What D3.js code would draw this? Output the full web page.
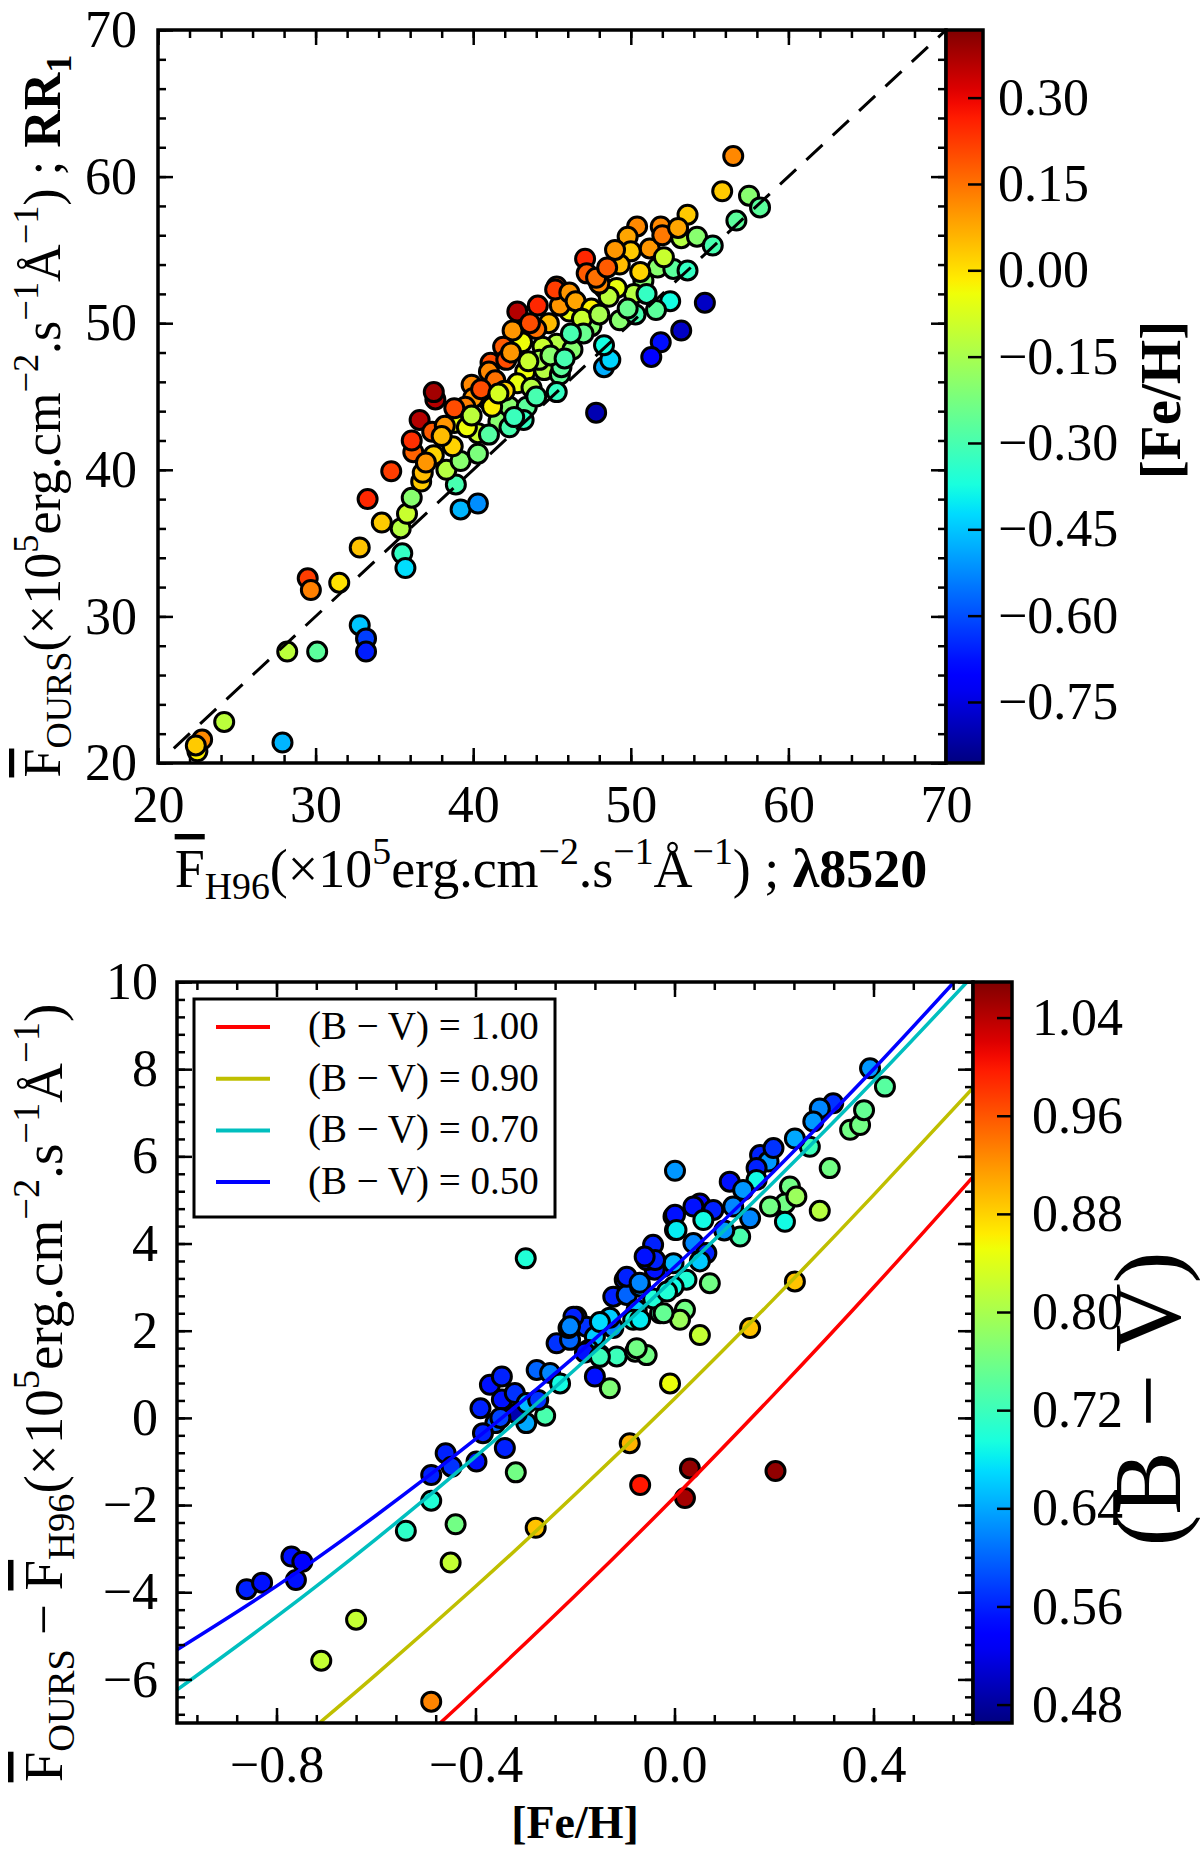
<!DOCTYPE html>
<html>
<head>
<meta charset="utf-8">
<script src="https://cdn.jsdelivr.net/npm/d3@7"></script>
<style>
  body { margin: 0; background: #fff; }
  text { font-family: "Liberation Serif", "DejaVu Serif", serif; fill: #000; }
</style>
</head>
<body>
<div id="chart"></div>
<script>
// ---- top panel: F_H96 vs F_OURS, coloured by [Fe/H]
var fluxH96 = [22.5,22.8,22.4,24.2,27.9,28.2,30.1,29.5,29.7,31.5,32.8,33.3,32.8,33.2,33.2,34.2,35.5,35.7,35.4,35.8,
  36.1,34.8,36.7,36.8,36.2,36.1,36.6,37.4,37.6,37.5,39.2,40.3,38.9,38.3,39.2,38.7,38.8,40.3,40.3,39.6,
  40.9,39.9,40.0,41.6,42.3,43.4,43.2,42.3,41.1,41.0,43.3,42.8,43.7,44.5,45.5,45.3,43.1,42.5,41.9,42.8,
  44.1,45.3,46.3,46.1,45.5,44.4,56.5,55.8,57.5,58.2,56.7,53.6,51.9,50.4,49.8,51.2,50.0,53.2,54.2,55.2,
  49.3,51.7,52.7,53.6,47.1,47.2,50.8,50.2,51.0,52.5,54.7,53.2,51.9,51.3,47.8,48.3,48.7,48.3,49.3,50.3,
  51.6,48.3,49.1,48.6,47.5,45.3,45.6,45.2,46.1,48.0,46.5,47.5,46.9,44.8,44.0,43.6,42.1,42.4,41.4,40.5,
  39.5,38.8,38.2,38.0,37.5,37.0,41.2,42.0,44.2,47.0,48.0,49.8,50.6,52.1,47.8,46.2,44.9,43.5,41.6,39.9,
  41.0,42.6,44.0,45.8,52.0,53.0,49.0,48.5];
var fluxOurs = [20.8,21.6,21.2,22.8,21.4,27.6,27.6,32.6,31.8,32.3,34.7,38.0,29.4,28.5,27.6,36.4,34.3,33.3,36.0,37.0,
  38.1,39.9,39.2,39.8,41.2,42.0,43.4,42.6,44.8,45.3,37.3,37.7,39.0,40.0,40.6,41.6,43.2,42.5,41.1,42.9,
  44.8,45.8,44.9,43.3,44.3,44.3,43.4,42.9,47.3,46.7,46.7,45.9,45.6,46.8,46.5,45.3,48.7,49.5,48.4,50.8,
  51.2,48.6,48.2,50.8,51.2,48.4,61.4,59.0,58.7,57.9,57.0,57.4,56.6,56.6,55.9,55.1,54.9,55.8,55.9,55.3,
  54.0,53.8,53.7,53.6,54.4,53.4,52.9,52.0,52.0,51.5,51.4,49.5,48.7,47.7,43.9,47.0,47.5,48.5,50.2,50.6,
  50.9,52.4,52.4,51.8,49.8,52.5,47.0,52.3,52.1,52.7,51.5,51.0,50.3,50.0,49.6,50.0,47.5,48.0,46.1,45.5,
  44.3,44.2,43.0,42.3,41.0,40.5,44.3,45.4,47.5,49.3,50.6,51.0,53.5,54.5,53.1,49.3,47.8,47.4,45.2,43.7,
  42.4,43.6,45.0,47.6,56.0,56.5,55.0,53.8];
var fehTop = [-0.02,0.12,0.03,-0.12,-0.47,-0.12,-0.27,0.22,0.13,0.00,0.04,0.25,-0.45,-0.62,-0.66,0.03,-0.33,-0.42,-0.13,-0.10,
  -0.20,0.22,0.03,0.05,0.17,0.24,0.36,0.18,0.36,0.38,-0.47,-0.52,-0.30,-0.13,-0.20,0.02,-0.05,-0.10,-0.22,-0.04,
  0.05,0.12,0.10,-0.20,-0.20,-0.27,-0.33,-0.30,0.20,0.12,-0.04,-0.05,-0.13,-0.13,-0.26,-0.33,-0.04,0.10,0.18,0.36,
  0.25,-0.13,-0.20,-0.05,0.10,-0.10,0.12,0.03,-0.20,-0.27,-0.27,0.03,0.12,0.12,0.08,0.10,0.03,-0.13,-0.20,-0.30,
  0.05,-0.20,-0.27,-0.33,0.25,0.18,-0.20,-0.13,-0.33,-0.38,-0.78,-0.78,-0.68,-0.70,-0.80,-0.48,-0.43,-0.38,-0.20,-0.30,
  -0.27,0.05,-0.05,-0.12,-0.20,0.17,-0.27,0.22,0.10,0.12,0.08,-0.02,-0.10,0.05,0.15,0.20,0.20,0.10,0.15,0.20,
  0.13,0.20,0.10,0.05,0.02,0.10,-0.02,0.02,-0.15,-0.25,-0.15,-0.25,0.02,-0.10,0.15,-0.30,-0.20,-0.10,-0.08,-0.12,
  -0.28,-0.32,-0.30,-0.30,0.14,0.08,0.10,0.18];
var oneToOne = [21, 70];
var topTicks = [20, 30, 40, 50, 60, 70];
var fehTicks = [0.30, 0.15, 0.00, -0.15, -0.30, -0.45, -0.60, -0.75];
var fehRange = [-0.856, 0.4175];

// ---- bottom panel: [Fe/H] vs flux difference, coloured by (B-V)
var fehBot = [-0.860,-0.829,-0.770,-0.748,-0.761,-0.640,-0.710,-0.489,-0.540,-0.489,-0.440,-0.450,-0.279,-0.489,-0.460,-0.448,-0.398,-0.341,-0.319,-0.390,
  -0.360,-0.260,-0.298,-0.299,-0.371,-0.347,-0.347,-0.321,-0.317,-0.297,-0.274,-0.277,-0.250,-0.230,-0.237,-0.210,-0.213,-0.197,-0.177,-0.160,
  -0.173,-0.150,-0.160,-0.130,-0.116,-0.079,-0.056,-0.009,-0.123,-0.130,-0.123,-0.100,-0.096,-0.069,-0.076,-0.083,-0.029,-0.043,-0.023,-0.002,
  -0.040,-0.056,0.001,-0.002,-0.043,0.001,0.051,0.152,0.242,0.292,0.312,0.353,0.373,0.381,0.423,0.319,0.292,0.279,0.272,0.242,
  0.232,0.222,0.245,0.222,0.192,0.172,0.189,0.199,0.165,0.165,0.111,0.138,0.118,0.152,0.132,0.100,0.051,0.038,0.078,0.001,
  0.004,0.058,0.038,0.064,0.051,0.071,0.024,0.021,0.011,-0.002,-0.015,-0.022,-0.076,-0.039,-0.060,-0.096,-0.070,-0.069,-0.203,-0.210,
  -0.150,-0.180,-0.150,-0.069,0.031,0.021,0.203,-0.090,0.393,-0.385,-0.350];
var diffFlux = [-3.93,-3.78,-3.18,-3.30,-3.72,-4.63,-5.57,-6.51,-2.59,-1.90,-2.44,-3.32,-2.52,-1.31,-0.81,-1.12,-1.00,-0.69,-1.25,0.22,
  -0.12,0.05,-0.12,3.66,0.76,0.95,0.42,0.57,0.10,0.34,0.41,1.10,1.03,0.79,1.71,1.79,2.06,2.32,2.09,1.86,
  1.56,1.44,0.95,0.68,1.41,1.52,1.44,0.79,2.06,2.30,2.78,3.17,2.82,3.01,2.48,2.25,2.40,2.74,3.47,3.55,
  3.40,3.62,4.31,4.62,3.97,5.67,1.90,2.06,3.13,4.75,5.73,6.61,6.72,7.06,7.60,7.22,7.10,6.80,6.22,6.41,
  5.31,4.92,5.08,4.50,4.85,6.03,5.88,6.19,5.73,5.46,5.42,5.23,4.85,4.58,4.16,4.30,4.92,4.85,4.77,4.66,
  4.31,4.54,4.01,3.78,3.59,3.09,3.17,2.48,2.25,3.01,2.90,2.40,1.60,3.62,3.70,3.24,3.10,2.25,2.32,2.10,
  2.20,1.50,1.40,-1.54,-1.16,-1.84,-1.22,-0.58,8.02,-0.35,0.00];
var bvBot = [0.56,0.55,0.55,0.54,0.55,0.82,0.82,0.93,0.71,0.70,0.76,0.82,0.89,0.56,0.56,0.57,0.55,0.56,0.76,0.56,
  0.60,0.73,0.64,0.70,0.55,0.56,0.55,0.57,0.49,0.65,0.57,0.60,0.62,0.69,0.57,0.60,0.56,0.57,0.57,0.66,
  0.66,0.70,0.55,0.77,0.72,0.76,0.76,0.85,0.62,0.66,0.56,0.56,0.60,0.62,0.66,0.70,0.73,0.70,0.56,0.65,
  0.55,0.56,0.71,0.57,0.56,0.63,0.82,0.89,0.89,0.81,0.76,0.76,0.76,0.75,0.74,0.57,0.62,0.63,0.72,0.64,
  0.76,0.76,0.79,0.69,0.76,0.56,0.63,0.57,0.56,0.69,0.55,0.63,0.62,0.62,0.73,0.63,0.54,0.55,0.56,0.55,
  0.68,0.69,0.62,0.56,0.66,0.76,0.70,0.76,0.79,0.69,0.70,0.75,0.76,0.56,0.55,0.56,0.62,0.68,0.56,0.62,
  0.67,0.55,0.72,1.00,1.06,1.05,1.06,0.90,0.63,0.56,0.58];
var bvLevels = ["1.00", "0.90", "0.70", "0.50"];
var bvLineColors = ["#ff0000", "#bfbf00", "#00bfbf", "#0000ff"];
var lineFeH = [
  [-0.471, -0.4, -0.2, 0.0, 0.2, 0.4, 0.6],
  [-0.714, -0.6, -0.4, -0.2, 0.0, 0.2, 0.4, 0.6],
  [-1.0, -0.8, -0.6, -0.4, -0.2, 0.0, 0.2, 0.4, 0.588],
  [-1.0, -0.8, -0.6, -0.4, -0.2, 0.0, 0.2, 0.4, 0.562]
];
var lineDiff = [
  [-7.0, -6.25, -4.08, -1.82, 0.54, 2.99, 5.53],
  [-7.0, -5.89, -3.87, -1.76, 0.44, 2.73, 5.11, 7.57],
  [-6.24, -4.56, -2.78, -0.89, 1.11, 3.21, 5.42, 7.73, 10.0],
  [-5.32, -3.86, -2.24, -0.49, 1.41, 3.46, 5.66, 8.00, 10.0]
];
var botXTicks = [-0.8, -0.4, 0.0, 0.4];
var botYTicks = [-6, -4, -2, 0, 2, 4, 6, 8, 10];
var bvTicks = [1.04, 0.96, 0.88, 0.80, 0.72, 0.64, 0.56, 0.48];
var bvRange = [0.465, 1.069];

var svg = d3.select("#chart").append("svg")
    .attr("width", 1200).attr("height", 1855);
svg.append("rect").attr("width", 1200).attr("height", 1855).attr("fill", "#fff");

// matplotlib jet
var jr = d3.scaleLinear().domain([0, 0.35, 0.66, 0.89, 1]).range([0, 0, 1, 1, 0.5]).clamp(true),
    jg = d3.scaleLinear().domain([0, 0.125, 0.375, 0.64, 0.91, 1]).range([0, 0, 1, 1, 0, 0]).clamp(true),
    jb = d3.scaleLinear().domain([0, 0.11, 0.34, 0.65, 1]).range([0.5, 1, 1, 0, 0]).clamp(true);
function jet(t) {
  return d3.rgb(jr(t) * 255, jg(t) * 255, jb(t) * 255).toString();
}
var fmtMinus = function(f) { return function(d) { return f(d).replace("-", "\u2212"); }; };

var defs = svg.append("defs");
var grad = defs.append("linearGradient").attr("id", "jetgrad")
    .attr("x1", 0).attr("y1", 1).attr("x2", 0).attr("y2", 0);
d3.range(0, 1.0001, 0.02).forEach(function(t) {
  grad.append("stop").attr("offset", t).attr("stop-color", jet(t));
});

// rich text with sub/superscripts
function rich(g, x, y, fs, parts, rotate, anchor) {
  var t = g.append("text").attr("x", x).attr("y", y)
      .attr("font-size", fs).attr("text-anchor", anchor || "middle");
  if (rotate) t.attr("transform", "rotate(-90," + x + "," + y + ")");
  var shift = 0;
  parts.forEach(function(p) {
    var target = p.sup ? -0.42 * fs : p.sub ? 0.22 * fs : 0;
    var ts = t.append("tspan").attr("dy", target - shift).text(p.t);
    shift = target;
    if (p.sup || p.sub) ts.attr("font-size", fs * 0.7);
    if (p.bold) ts.attr("font-weight", "bold");
    if (p.over) ts.style("text-decoration", "overline");
  });
  return t;
}
var units = [
  {t: "(\u00d710"}, {t: "5", sup: true}, {t: "erg.cm"}, {t: "\u22122", sup: true},
  {t: ".s"}, {t: "\u22121", sup: true}, {t: "\u00c5"}, {t: "\u22121", sup: true}, {t: ")"}
];

function frame(g, x, y, minorX, minorY, majorX, majorY, fmtX, fmtY, padX, padY) {
  var w = x.range()[1] - x.range()[0], h = y.range()[0] - y.range()[1];
  var gx0 = x.range()[0], gy0 = y.range()[1];
  var axes = g.append("g");
  axes.append("g").attr("transform", "translate(0," + y.range()[0] + ")")
      .call(d3.axisBottom(x).tickValues(minorX).tickSize(-8).tickFormat(""));
  axes.append("g").attr("transform", "translate(0," + gy0 + ")")
      .call(d3.axisTop(x).tickValues(minorX).tickSize(-8).tickFormat(""));
  axes.append("g").attr("transform", "translate(" + gx0 + ",0)")
      .call(d3.axisLeft(y).tickValues(minorY).tickSize(-8).tickFormat(""));
  axes.append("g").attr("transform", "translate(" + x.range()[1] + ",0)")
      .call(d3.axisRight(y).tickValues(minorY).tickSize(-8).tickFormat(""));
  axes.append("g").attr("class", "xlab").attr("transform", "translate(0," + y.range()[0] + ")")
      .call(d3.axisBottom(x).tickValues(majorX).tickSize(-15).tickPadding(padX).tickFormat(fmtX));
  axes.append("g").attr("transform", "translate(0," + gy0 + ")")
      .call(d3.axisTop(x).tickValues(majorX).tickSize(-15).tickFormat(""));
  axes.append("g").attr("class", "ylab").attr("transform", "translate(" + gx0 + ",0)")
      .call(d3.axisLeft(y).tickValues(majorY).tickSize(-15).tickPadding(padY).tickFormat(fmtY));
  axes.append("g").attr("transform", "translate(" + x.range()[1] + ",0)")
      .call(d3.axisRight(y).tickValues(majorY).tickSize(-15).tickFormat(""));
  axes.selectAll(".domain").remove();
  axes.selectAll(".tick line").attr("stroke", "#000").attr("stroke-width", 2.5);
  axes.selectAll(".tick text").attr("font-size", 52)
      .attr("font-family", "'Liberation Serif', serif").attr("fill", "#000");
  g.append("rect").attr("x", gx0).attr("y", gy0).attr("width", w).attr("height", h)
      .attr("fill", "none").attr("stroke", "#000").attr("stroke-width", 3.5);
}

function colorbar(g, x0, x1, scale, ticks, fmt, pad) {
  var r = scale.range();
  g.append("rect").attr("x", x0).attr("y", r[1]).attr("width", x1 - x0).attr("height", r[0] - r[1])
      .attr("fill", "url(#jetgrad)");
  var ax = g.append("g").attr("transform", "translate(" + x1 + ",0)")
      .call(d3.axisRight(scale).tickValues(ticks).tickSize(-15).tickPadding(pad).tickFormat(fmt));
  ax.select(".domain").remove();
  ax.selectAll(".tick line").attr("stroke", "#000").attr("stroke-width", 2.5);
  ax.selectAll(".tick text").attr("font-size", 52)
      .attr("font-family", "'Liberation Serif', serif").attr("fill", "#000");
  g.append("rect").attr("x", x0).attr("y", r[1]).attr("width", x1 - x0).attr("height", r[0] - r[1])
      .attr("fill", "none").attr("stroke", "#000").attr("stroke-width", 3.5);
}

// ================= top panel =================
var topG = svg.append("g");
var xT = d3.scaleLinear().domain([20, 70]).range([158, 946]);
var yT = d3.scaleLinear().domain([20, 70]).range([763, 30]);
var cT = d3.scaleLinear().domain(fehRange).range([763, 30]);

var topPts = fluxH96.map(function(d, i) { return {x: d, y: fluxOurs[i], c: fehTop[i]}; });
topG.append("g").selectAll("circle").data(topPts).enter().append("circle")
    .attr("cx", function(d) { return xT(d.x); })
    .attr("cy", function(d) { return yT(d.y); })
    .attr("r", 9.5)
    .attr("fill", function(d) { return jet((d.c - fehRange[0]) / (fehRange[1] - fehRange[0])); })
    .attr("stroke", "#000").attr("stroke-width", 3);

topG.append("line")
    .attr("x1", xT(oneToOne[0])).attr("y1", yT(oneToOne[0]))
    .attr("x2", xT(oneToOne[1])).attr("y2", yT(oneToOne[1]))
    .attr("stroke", "#000").attr("stroke-width", 3).attr("stroke-dasharray", "22,14");

frame(topG, xT, yT, d3.range(20, 70.01, 2), d3.range(20, 70.01, 2), topTicks, topTicks,
      d3.format("d"), d3.format("d"), 22, 21);
colorbar(topG, 946, 983, cT, fehTicks, fmtMinus(d3.format(".2f")), 15);

rich(topG, 60, 416, 52, [{t: "F", over: true}, {t: "OURS", sub: true}].concat(units)
    .concat([{t: " ; "}, {t: "RR", bold: true}, {t: "1", sub: true, bold: true}]), true);
rich(topG, 551, 887, 54, [{t: "F", over: true}, {t: "H96", sub: true}].concat(units)
    .concat([{t: " ; "}, {t: "\u03bb8520", bold: true}]), false);
topG.append("text").attr("transform", "translate(1180,400) rotate(-90)")
    .attr("text-anchor", "middle").attr("font-size", 57).attr("font-weight", "bold").text("[Fe/H]");

// ================= bottom panel =================
var botG = svg.append("g");
var xB = d3.scaleLinear().domain([-1.0, 0.6]).range([177, 973]);
var yB = d3.scaleLinear().domain([-7, 10]).range([1723, 982]);
var cB = d3.scaleLinear().domain(bvRange).range([1723, 982]);

defs.append("clipPath").attr("id", "clipB").append("rect")
    .attr("x", 177).attr("y", 982).attr("width", 796).attr("height", 741);

var botPts = fehBot.map(function(d, i) { return {x: d, y: diffFlux[i], c: bvBot[i]}; });
botG.append("g").selectAll("circle").data(botPts).enter().append("circle")
    .attr("cx", function(d) { return xB(d.x); })
    .attr("cy", function(d) { return yB(d.y); })
    .attr("r", 9.5)
    .attr("fill", function(d) { return jet((d.c - bvRange[0]) / (bvRange[1] - bvRange[0])); })
    .attr("stroke", "#000").attr("stroke-width", 3);

var line = d3.line().x(function(d) { return xB(d[0]); }).y(function(d) { return yB(d[1]); })
    .curve(d3.curveNatural);
botG.append("g").attr("clip-path", "url(#clipB)").selectAll("path")
    .data(lineFeH.map(function(xs, k) { return xs.map(function(v, j) { return [v, lineDiff[k][j]]; }); }))
    .enter().append("path")
    .attr("d", line)
    .attr("fill", "none")
    .attr("stroke", function(d, k) { return bvLineColors[k]; })
    .attr("stroke-width", 3.5);

frame(botG, xB, yB, d3.range(-12, 8).map(function(i) { return i * 0.08; }).filter(function(v) { return v > -1.0; }),
      d3.range(-17, 26).map(function(i) { return i * 0.4; }),
      botXTicks, botYTicks, fmtMinus(d3.format(".1f")), fmtMinus(d3.format("d")), 22, 19);
colorbar(botG, 973, 1012, cB, bvTicks, d3.format(".2f"), 20);

// legend
var leg = botG.append("g");
leg.append("rect").attr("x", 194).attr("y", 999).attr("width", 361).attr("height", 218)
    .attr("fill", "#fff").attr("stroke", "#000").attr("stroke-width", 3);
var rows = leg.selectAll("g").data(bvLevels).enter().append("g")
    .attr("transform", function(d, i) { return "translate(0," + (1027 + i * 51.7) + ")"; });
rows.append("line").attr("x1", 216).attr("x2", 270)
    .attr("stroke", function(d, i) { return bvLineColors[i]; }).attr("stroke-width", 4);
rows.append("text").attr("x", 308).attr("y", 12).attr("font-size", 39)
    .text(function(d) { return "(B \u2212 V) = " + d; });

rich(botG, 62, 1393, 55, [{t: "F", over: true}, {t: "OURS", sub: true}, {t: " \u2212 "},
    {t: "F", over: true}, {t: "H96", sub: true}].concat(units), true);
botG.append("text").attr("x", 575).attr("y", 1838).attr("text-anchor", "middle")
    .attr("font-size", 46).attr("font-weight", "bold").text("[Fe/H]");
botG.append("text").attr("transform", "translate(1180,1399) rotate(-90)")
    .attr("text-anchor", "middle").attr("font-size", 95).text("(B \u2212 V)");
</script>
</body>
</html>
